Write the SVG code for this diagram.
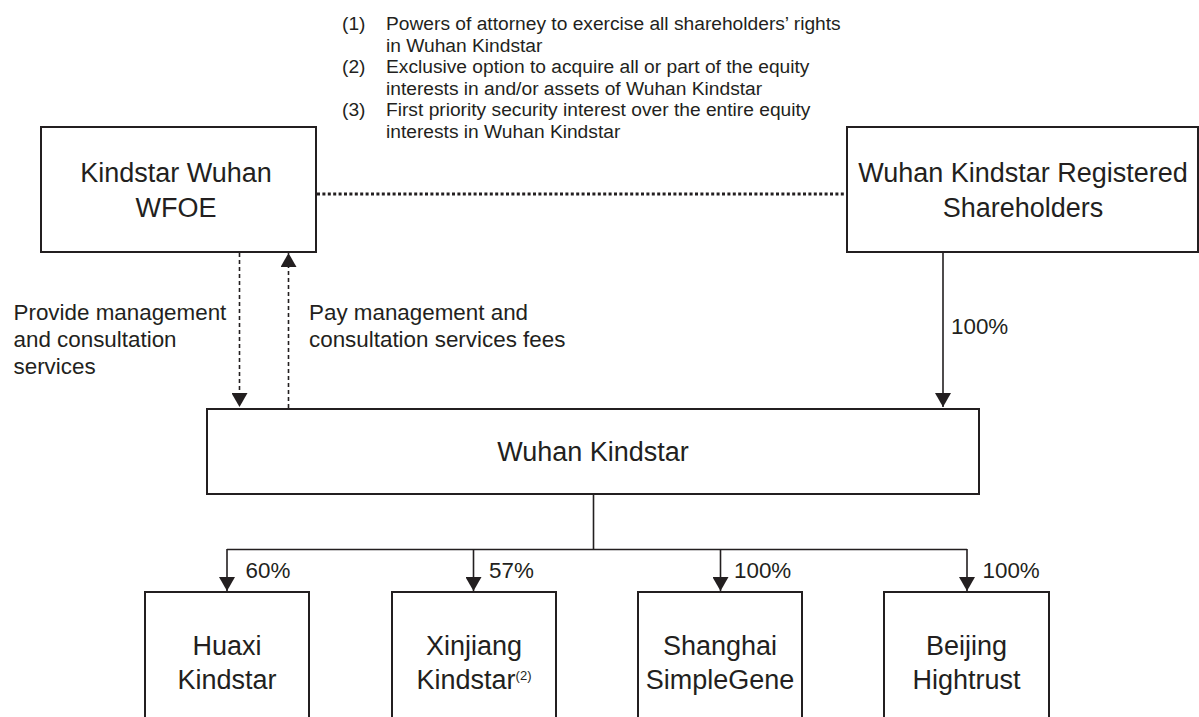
<svg xmlns="http://www.w3.org/2000/svg" width="1199" height="717" viewBox="0 0 1199 717">
<style>
  .box { fill: #ffffff; stroke: #231f20; stroke-width: 2; }
  .t { font-family: "Liberation Sans", Arial, sans-serif; fill: #231f20; }
  .big { font-size: 27px; text-anchor: middle; }
  .mid { font-size: 22.4px; }
  .note { font-size: 19.2px; }
  .line { fill: none; stroke: #231f20; stroke-width: 1.6; }
  .dash { fill: none; stroke: #231f20; stroke-width: 1.6; stroke-dasharray: 4 3; }
  .dots { fill: none; stroke: #231f20; stroke-width: 2.8; stroke-dasharray: 3 2.4; }
</style>
<defs>
  <marker id="arr" viewBox="0 0 14 16" refX="14" refY="8" markerWidth="14" markerHeight="16" markerUnits="userSpaceOnUse" orient="auto">
    <path d="M0,0 L14,8 L0,16 Z" fill="#231f20"/>
  </marker>
</defs>
<rect width="1199" height="717" fill="#ffffff"/>

<g id="notes" class="t note">
  <text x="342" y="30">(1)</text><text x="386" y="30">Powers of attorney to exercise all shareholders’ rights</text>
  <text x="386" y="51.5">in Wuhan Kindstar</text>
  <text x="342" y="73">(2)</text><text x="386" y="73">Exclusive option to acquire all or part of the equity</text>
  <text x="386" y="94.5">interests in and/or assets of Wuhan Kindstar</text>
  <text x="342" y="116">(3)</text><text x="386" y="116">First priority security interest over the entire equity</text>
  <text x="386" y="137.5">interests in Wuhan Kindstar</text>
</g>

<g id="connectors">
  <line class="dots" x1="317" y1="194" x2="846" y2="194"/>
  <line class="dash" x1="239.5" y1="253" x2="239.5" y2="407" marker-end="url(#arr)"/>
  <line class="dash" x1="288.5" y1="408" x2="288.5" y2="253" marker-end="url(#arr)"/>
  <line class="line" x1="943" y1="253" x2="943" y2="407" marker-end="url(#arr)"/>
  <polyline class="line" points="593.5,495 593.5,549.5"/>
  <line class="line" x1="227" y1="549.5" x2="967" y2="549.5"/>
  <line class="line" x1="227" y1="549" x2="227" y2="591" marker-end="url(#arr)"/>
  <line class="line" x1="473.5" y1="549" x2="473.5" y2="591" marker-end="url(#arr)"/>
  <line class="line" x1="720.5" y1="549" x2="720.5" y2="591" marker-end="url(#arr)"/>
  <line class="line" x1="967" y1="549" x2="967" y2="591" marker-end="url(#arr)"/>
</g>

<g id="labels" class="t mid">
  <text x="13.5" y="320">Provide management</text>
  <text x="13.5" y="347">and consultation</text>
  <text x="13.5" y="373.5">services</text>
  <text x="309" y="320">Pay management and</text>
  <text x="309" y="347">consultation services fees</text>
  <text x="951" y="334">100%</text>
  <text x="245.5" y="577.5">60%</text>
  <text x="489" y="577.5">57%</text>
  <text x="734" y="577.5">100%</text>
  <text x="982.5" y="577.5">100%</text>
</g>

<g id="wfoe">
  <rect class="box" x="41" y="127" width="275" height="125"/>
  <text class="t big" x="176" y="182">Kindstar Wuhan</text>
  <text class="t big" x="176" y="217">WFOE</text>
</g>

<g id="shareholders">
  <rect class="box" x="847" y="127" width="351" height="125"/>
  <text class="t big" x="1023" y="182">Wuhan Kindstar Registered</text>
  <text class="t big" x="1023" y="217">Shareholders</text>
</g>

<g id="wuhan-kindstar">
  <rect class="box" x="207" y="409" width="772" height="85"/>
  <text class="t big" x="593" y="461">Wuhan Kindstar</text>
</g>

<g id="huaxi">
  <rect class="box" x="145" y="592" width="164" height="140"/>
  <text class="t big" x="227" y="655">Huaxi</text>
  <text class="t big" x="227" y="689">Kindstar</text>
</g>

<g id="xinjiang">
  <rect class="box" x="392" y="592" width="164" height="140"/>
  <text class="t big" x="474" y="655">Xinjiang</text>
  <text class="t big" x="474" y="689">Kindstar<tspan font-size="13px" dy="-9">(2)</tspan></text>
</g>

<g id="shanghai">
  <rect class="box" x="638" y="592" width="164" height="140"/>
  <text class="t big" x="720" y="655">Shanghai</text>
  <text class="t big" x="720" y="689">SimpleGene</text>
</g>

<g id="beijing">
  <rect class="box" x="884" y="592" width="165" height="140"/>
  <text class="t big" x="966.5" y="655">Beijing</text>
  <text class="t big" x="966.5" y="689">Hightrust</text>
</g>
</svg>
